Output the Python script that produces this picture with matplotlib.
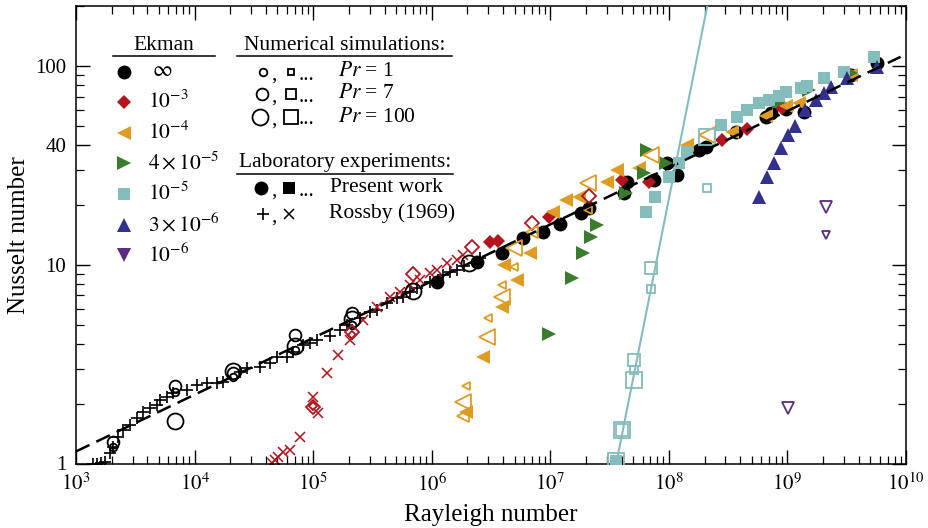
import numpy as np
import matplotlib
matplotlib.use("Agg")
import matplotlib.pyplot as plt
from matplotlib.lines import Line2D
from matplotlib.ticker import FixedLocator, FixedFormatter, NullFormatter

plt.rcParams["font.family"] = ["Liberation Serif", "DejaVu Serif"]
plt.rcParams["mathtext.fontset"] = "stix"

# =========================
# DATA
# =========================

# Rossby (1969), non-rotating (+) and rotating (x)
ross_ra = [1.39e3, 1.50e3, 1.62e3, 1.75e3, 1.93e3, 2.05e3, 2.26e3, 2.49e3, 2.85e3, 3.26e3,
           3.67e3, 4.20e3, 4.81e3, 5.10e3, 5.84e3, 6.56e3, 8.61e3, 1.05e4, 1.27e4, 1.54e4,
           1.73e4, 2.41e4, 2.76e4, 3.55e4, 4.31e4, 4.93e4, 6.0e4, 6.73e4, 8.17e4, 9.36e4,
           1.07e5, 1.38e5, 1.67e5, 1.92e5, 2.47e5, 3.0e5, 3.43e5, 4.17e5, 5.06e5, 5.69e5,
           6.52e5, 7.46e5, 9.6e5, 1.24e6, 1.42e6, 1.62e6, 1.89e6, 2.53e6]
ross_nu = [1.0, 1.0, 1.006, 1.017, 1.13, 1.21, 1.36, 1.47, 1.56, 1.69,
           1.82, 1.90, 1.97, 2.09, 2.16, 2.26, 2.34, 2.48, 2.54, 2.54,
           2.57, 2.89, 3.02, 3.06, 3.20, 3.43, 3.43, 3.64, 3.95, 4.04,
           4.18, 4.38, 4.69, 4.97, 5.40, 5.78, 5.92, 6.42, 6.80, 6.88,
           7.29, 7.64, 8.19, 8.87, 9.19, 9.41, 9.86, 10.8]

ross_rot_ra = [4.48e4, 4.75e4, 5.03e4, 5.55e4, 6.35e4, 7.71e4, 9.93e4, 1.09e5, 1.30e5, 1.61e5,
               2.03e5, 2.62e5, 3.43e5, 4.42e5, 5.37e5, 6.52e5, 7.91e5, 9.6e5, 1.10e6, 1.34e6,
               1.62e6, 1.82e6]
ross_rot_nu = [1.006, 1.04, 1.08, 1.14, 1.17, 1.36, 2.16, 1.79, 2.85, 3.51,
               4.18, 5.27, 6.13, 6.88, 7.29, 7.91, 8.38, 9.08, 9.41, 10.2,
               10.6, 11.2]

# Ekman = infinity
inf_lab_ra = [1.1e6, 2.39e6, 3.95e6, 5.83e6, 8.6e6, 1.2e7, 1.83e7, 2.14e7, 4.2e7, 4.47e7, 7.55e7,
              9.7e7, 1.16e8, 1.81e8, 2.07e8, 3.7e8, 6.6e8, 7.3e8, 9.8e8, 1.39e9, 3.44e9, 5.7e9]
inf_lab_nu = [8.2, 10.3, 11.5, 13.6, 14.6, 16.0, 18.2, 19.3, 23.0, 26.1, 26.7,
              32.5, 28.3, 37.8, 39.1, 46.6, 55.3, 58.1, 60.8, 58.7, 90.2, 103.5]
inf_sim_ra = [2.05e3, 2.05e3, 6.8e3, 6.8e3, 6.8e3, 2.1e4, 2.1e4, 2.1e4, 7.0e4, 7.0e4, 7.0e4,
              2.11e5, 2.11e5, 2.11e5, 6.9e5, 2.08e6]
inf_sim_nu = [1.21, 1.28, 2.29, 2.45, 1.64, 2.72, 2.85, 2.92, 3.72, 4.43, 3.90,
              4.97, 5.72, 5.33, 7.38, 10.2]
inf_sim_pr = [1, 7, 1, 7, 100, 1, 7, 100, 1, 7, 100, 1, 7, 100, 100, 100]

# Ekman = 1e-3
e3_lab_ra = [3.08e6, 3.59e6, 9.84e6, 4.06e7, 6.86e7, 2.82e8, 4.58e8, 9.04e8, 3.44e9]
e3_lab_nu = [13.0, 13.2, 17.4, 26.7, 26.1, 42.4, 48.2, 61.5, 90.2]
e3_sim_ra = [1.0e5, 1.0e5, 2.11e5, 2.11e5, 6.9e5, 2.17e6, 6.95e6, 2.14e7]
e3_sim_nu = [1.95, 1.92, 4.45, 4.6, 8.98, 12.3, 16.2, 22.2]
e3_sim_pr = [1, 7, 1, 7, 7, 7, 7, 7]

# Ekman = 1e-4
e4_lab_ra = [1.93e6, 2.69e6, 3.95e6, 5.19e6, 4.11e6, 6.68e6, 1.05e7, 1.37e7, 1.76e7, 2.98e7,
             3.68e7, 5.65e7, 1.41e8, 3.43e8, 6.62e8, 9.77e8, 1.26e9, 3.44e9]
e4_lab_nu = [1.82, 3.43, 6.13, 8.38, 9.97, 11.5, 18.4, 21.2, 21.9, 26.1,
             30.0, 30.7, 40.1, 46.6, 56.0, 62.9, 65.2, 90.2]
e4_sim_ra = [1.93e6, 1.82e6, 1.85e6, 2.96e6, 2.9e6, 3.88e6, 3.88e6, 4.99e6, 4.99e6, 6.95e6,
             2.06e7, 2.06e7, 7.13e7, 2.11e8]
e4_sim_nu = [2.45, 2.04, 1.73, 5.40, 4.33, 7.91, 6.88, 9.74, 12.1, 14.6,
             18.9, 25.8, 35.7, 45.0]
e4_sim_pr = [1, 100, 7, 1, 100, 1, 100, 1, 100, 7, 1, 100, 100, 100]

# Ekman = 4e-5
e45_lab_ra = [9.84e6, 1.51e7, 1.87e7, 2.22e7, 2.50e7, 4.39e7, 6.22e7, 6.59e7, 9.53e7,
              8.53e8, 1.53e9, 3.44e9]
e45_lab_nu = [4.48, 8.58, 11.5, 13.8, 15.8, 23.0, 28.9, 37.8, 32.5, 65.9, 75.7, 92.2]

# Ekman = 1e-5
e5_lab_ra = [3.61e7, 6.46e7, 7.69e7, 1.01e8, 1.22e8, 1.43e8, 2.77e8, 3.78e8, 4.58e8, 5.78e8,
             7.03e8, 8.53e8, 9.77e8, 1.31e9, 1.47e9, 2.04e9, 3.01e9, 5.38e9]
e5_lab_nu = [1.03, 18.4, 21.9, 27.7, 32.5, 36.9, 50.5, 55.3, 60.0, 65.2,
             67.4, 70.6, 74.0, 77.5, 79.3, 87.0, 93.3, 111.0]
e5_sim_ra = [3.61e7, 4.06e7, 4.06e7, 5.12e7, 5.12e7, 5.12e7, 7.13e7, 7.13e7, 2.11e8, 2.11e8]
e5_sim_nu = [1.03, 1.47, 1.47, 2.63, 3.32, 2.95, 9.63, 7.55, 24.3, 43.9]
e5_sim_pr = [100, 100, 7, 100, 7, 1, 7, 1, 1, 100]

# Ekman = 3e-6
e36_lab_ra = [5.78e8, 6.76e8, 7.75e8, 8.87e8, 1.02e9, 1.16e9, 1.41e9, 1.75e9, 2.04e9,
              2.34e9, 3.19e9, 5.71e9]
e36_lab_nu = [21.9, 27.7, 32.5, 38.6, 45.0, 49.9, 60.0, 67.4, 73.1, 78.4, 87.0, 98.9]

# Ekman = 1e-6
e6_sim_ra = [1.02e9, 2.12e9, 2.12e9]
e6_sim_nu = [1.90, 19.5, 14.1]
e6_sim_pr = [7, 7, 1]

# scaling lines
fit_ra = [1e3, 9e9]
fit_nu = [1.15, 111.0]
steep_ra = [3.6e7, 2.1e8]
steep_nu = [1.0, 198.0]

# axis ticks
x_major = [1e3, 1e4, 1e5, 1e6, 1e7, 1e8, 1e9, 1e10]
y_major = [1, 10, 40, 100]
y_labels = ["1", "10", "40", "100"]

# =========================
# STYLE
# =========================

C_RED = "#b3141d"
C_ORANGE = "#df9c25"
C_GREEN = "#3a7c2d"
C_TEAL = "#85bcbc"
C_NAVY = "#33318b"
C_PURPLE = "#5b2c84"

PR_SIZE = {1: 5.5, 7: 8.5, 100: 11.5}
W, H = 929, 528


def sims(ax, ra, nu, pr, marker, color, scale=1.0):
    ra = np.array(ra)
    nu = np.array(nu)
    pr = np.array(pr)
    for p, ms in PR_SIZE.items():
        m = pr == p
        if m.any():
            ax.plot(ra[m], nu[m], linestyle="none", marker=marker, ms=ms * scale,
                    mfc="none", mec=color, mew=1.3, zorder=5)


def lab(ax, ra, nu, marker, color, ms):
    ax.plot(ra, nu, linestyle="none", marker=marker, ms=ms, color=color,
            mec=color, mew=0, zorder=4)


# =========================
# FIGURE
# =========================

fig = plt.figure(figsize=(W / 100, H / 100), dpi=100)
ax = fig.add_axes([76 / W, 64.5 / H, 830 / W, 457.5 / H])
ax.set_xscale("log")
ax.set_yscale("log")
ax.set_xlim(1e3, 1e10)
ax.set_ylim(1, 200)

ax.plot(ross_ra, ross_nu, linestyle="none", marker="+", ms=8.5, mew=1.2, color="black", zorder=2)
ax.plot(ross_rot_ra, ross_rot_nu, linestyle="none", marker="x", ms=6.5, mew=1.1, color=C_RED, zorder=2)

lab(ax, inf_lab_ra, inf_lab_nu, "o", "black", 10)
sims(ax, inf_sim_ra, inf_sim_nu, inf_sim_pr, "o", "black")

lab(ax, e3_lab_ra, e3_lab_nu, "D", C_RED, 7)
sims(ax, e3_sim_ra, e3_sim_nu, e3_sim_pr, "D", C_RED, 0.8)

lab(ax, e4_lab_ra, e4_lab_nu, "<", C_ORANGE, 10)
sims(ax, e4_sim_ra, e4_sim_nu, e4_sim_pr, "<", C_ORANGE, 1.05)

lab(ax, e45_lab_ra, e45_lab_nu, ">", C_GREEN, 10)

lab(ax, e5_lab_ra, e5_lab_nu, "s", C_TEAL, 9)
sims(ax, e5_sim_ra, e5_sim_nu, e5_sim_pr, "s", C_TEAL, 0.95)

lab(ax, e36_lab_ra, e36_lab_nu, "^", C_NAVY, 10)
sims(ax, e6_sim_ra, e6_sim_nu, e6_sim_pr, "v", C_PURPLE, 1.05)

ax.plot(fit_ra, fit_nu, color="black", lw=1.8, dashes=(6, 3), zorder=6)
ax.plot(steep_ra, steep_nu, color=C_TEAL, lw=1.5, zorder=6)

# axes cosmetics
x_minor = [m * d for d in x_major[:-1] for m in range(2, 10)]
y_minor = [m * d for d in [1, 10, 100] for m in range(2, 10) if m * d <= 200 and m * d != 40]
ax.xaxis.set_major_locator(FixedLocator(x_major))
ax.xaxis.set_major_formatter(FixedFormatter([r"$10^{%d}$" % np.log10(v) for v in x_major]))
ax.xaxis.set_minor_locator(FixedLocator(x_minor))
ax.xaxis.set_minor_formatter(NullFormatter())
ax.yaxis.set_major_locator(FixedLocator(y_major))
ax.yaxis.set_major_formatter(FixedFormatter(y_labels))
ax.yaxis.set_minor_locator(FixedLocator(y_minor))
ax.yaxis.set_minor_formatter(NullFormatter())
ax.tick_params(which="both", direction="in", top=True, right=True, labelsize=15)
ax.tick_params(which="major", length=10, width=1.0, pad=7)
ax.tick_params(which="minor", length=5.5, width=0.9)
for s in ax.spines.values():
    s.set_linewidth(1.1)

ax.set_xlabel("Rayleigh number", fontsize=18, labelpad=6)
ax.set_ylabel("Nusselt number", fontsize=18, labelpad=4)

# =========================
# LEGEND (hand-built)
# =========================

def fp(x, y):
    return x / W, 1 - y / H


def key(x, y, marker, ms, filled=True, color="black", mew=1.3):
    xx, yy = fp(x, y)
    fig.add_artist(Line2D([xx], [yy], transform=fig.transFigure, linestyle="none",
                          marker=marker, ms=ms, color=color,
                          mfc=color if filled else "none", mec=color, mew=mew))


def txt(x, y, s, ha="left", size=15.5):
    fig.text(*fp(x, y), s, ha=ha, va="center", fontsize=size)


def rule(x0, x1, y):
    (a, b), (c, _) = fp(x0, y), fp(x1, y)
    fig.add_artist(Line2D([a, c], [b, b], transform=fig.transFigure, color="black", lw=1.1))


txt(164, 45, "Ekman", ha="center")
rule(113, 215, 56)
ek_rows = [("o", "black", 10, r"$\infty$", 72), ("D", C_RED, 7, r"$10^{-3}$", 102),
           ("<", C_ORANGE, 10, r"$10^{-4}$", 133), (">", C_GREEN, 10, r"$4\times10^{-5}$", 163),
           ("s", C_TEAL, 8.5, r"$10^{-5}$", 194), ("^", C_NAVY, 10, r"$3\times10^{-6}$", 225),
           ("v", C_PURPLE, 10, r"$10^{-6}$", 255)]
for mk, col, ms, lbl, yy in ek_rows:
    key(124, yy, mk, ms, True, col, 0)
    txt(148 if lbl != r"$\infty$" else 152, yy, lbl)

txt(345, 45, "Numerical simulations:", ha="center")
rule(237, 452, 56)
for yy, p, cx in [(72, 1, 263), (94, 7, 262), (117, 100, 260)]:
    key(cx, yy, "o", PR_SIZE[p], False)
    txt(271, yy + 3, ",")
    key(291, yy, "s", PR_SIZE[p] * 0.9, False)
    txt(299, yy + 3, "...")
    txt(338, yy, r"$Pr$ = %d" % p)

txt(345, 162, "Laboratory experiments:", ha="center")
rule(237, 453, 174)
key(261, 188, "o", 10, True, "black", 0)
txt(271, 191, ",")
key(289, 188, "s", 8.5, True, "black", 0)
txt(299, 191, "...")
txt(330, 187, "Present work")
key(263, 214, "+", 8.5, True, "black", 1.2)
txt(271, 217, ",")
key(289, 214, "x", 6.5, True, "black", 1.1)
txt(329, 213, "Rossby (1969)")

fig.savefig("out.png", dpi=100)
